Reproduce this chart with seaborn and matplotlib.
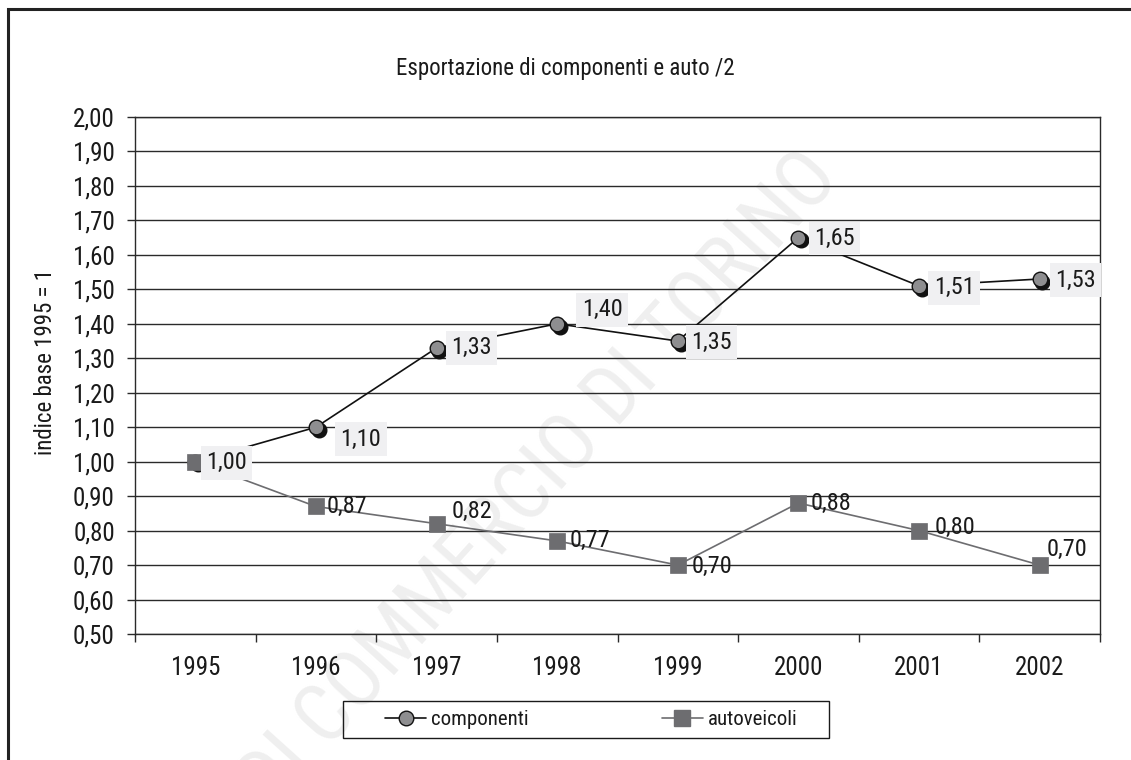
import numpy as np
import pandas as pd
import matplotlib
matplotlib.use("Agg")
import matplotlib.pyplot as plt
import matplotlib.transforms as mtransforms
import matplotlib.font_manager as fm
from matplotlib.lines import Line2D
from matplotlib.patches import Rectangle
from matplotlib.ticker import FixedLocator, FuncFormatter
import seaborn as sns

# --- data -------------------------------------------------------------
anni = ["1995", "1996", "1997", "1998", "1999", "2000", "2001", "2002"]
componenti = [1.00, 1.10, 1.33, 1.40, 1.35, 1.65, 1.51, 1.53]
autoveicoli = [1.00, 0.87, 0.82, 0.77, 0.70, 0.88, 0.80, 0.70]
y_ticks = [0.50, 0.60, 0.70, 0.80, 0.90, 1.00, 1.10, 1.20, 1.30, 1.40,
           1.50, 1.60, 1.70, 1.80, 1.90, 2.00]

titolo = "Esportazione di componenti e auto /2"
etichetta_y = "indice base 1995 = 1"
filigrana = "CAMERA DI COMMERCIO DI TORINO"

# label offsets from each point, in pixels (dx right, dy up)
off_comp = [(31, -1), (45, -12), (35, 0), (45, 14), (34, -1), (36, -1), (35, -2), (36, -1)]
off_auto = [(31, -1), (31, 0), (35, 12), (33, 0), (34, -1), (33, 0), (36, 3), (27, 16)]


# --- font: prefer a narrow sans face -------------------------------------
def pick_narrow_font():
    narrow_words = ("narrow", "condensed")
    good = []
    for f in fm.fontManager.ttflist:
        st = str(f.stretch).lower()
        nm = f.name.lower()
        fn = f.fname.lower()
        is_narrow = ("condensed" in st) or any(w in nm for w in narrow_words) \
            or any(w in fn.rsplit("/", 1)[-1] for w in narrow_words)
        if not is_narrow:
            continue
        if str(f.style) != "normal":
            continue
        w = f.weight
        if w not in ("normal", "regular", "book", 400):
            continue
        if "mono" in nm or "serif" in nm.replace("sans", ""):
            continue
        good.append(f)
    order = ["liberation sans narrow", "roboto condensed", "open sans",
             "noto sans", "dejavu sans"]

    def rank(f):
        nm = f.name.lower()
        for i, o in enumerate(order):
            if nm.startswith(o):
                return i
        return len(order)
    good.sort(key=rank)
    if good:
        return fm.FontProperties(fname=good[0].fname)
    return fm.FontProperties(family=["Liberation Sans", "DejaVu Sans"])


FP = pick_narrow_font()


def fprop(size):
    p = FP.copy()
    p.set_size(size)
    return p


# --- style -------------------------------------------------------------
sns.set_style("white")
plt.rcParams["font.family"] = ["Liberation Sans", "DejaVu Sans"]
plt.rcParams["text.color"] = "#1a1a1a"

C_COMP_FACE = "#8e8e90"
C_AUTO = "#6d6d70"
C_GRID = "#2a2a2a"
FS = 17.5
FS_TICK = 18
PX = 0.72  # points per pixel at 100 dpi

df = pd.DataFrame({"pos": np.arange(len(anni)),
                   "componenti": componenti,
                   "autoveicoli": autoveicoli})

fig = plt.figure(figsize=(11.31, 7.60), dpi=100)
ax = fig.add_axes([135 / 1131, 1 - 634 / 760, 965 / 1131, 517 / 760])

# shadow under the circle markers
shadow = mtransforms.ScaledTranslation(0.028, -0.028, fig.dpi_scale_trans)
ax.plot(df["pos"], df["componenti"], linestyle="none", marker="o",
        markersize=10.5, color="#111111", transform=ax.transData + shadow,
        zorder=3)

sns.lineplot(data=df, x="pos", y="componenti", ax=ax, color="#111111",
             linewidth=1.2, marker="o", markersize=10.5,
             markerfacecolor=C_COMP_FACE, markeredgecolor="#111111",
             markeredgewidth=1.0, zorder=3.5)
sns.lineplot(data=df, x="pos", y="autoveicoli", ax=ax, color=C_AUTO,
             linewidth=1.2, marker="s", markersize=11.5,
             markerfacecolor=C_AUTO, markeredgecolor=C_AUTO,
             markeredgewidth=0.5, zorder=4)

# value labels
fmt = lambda v: f"{v:.2f}".replace(".", ",")
for i, v in enumerate(autoveicoli):
    dx, dy = off_auto[i]
    ax.annotate(fmt(v), xy=(i, v), xytext=(dx * PX, dy * PX),
                textcoords="offset points", ha="center", va="center",
                fontproperties=fprop(FS), color="#1a1a1a", zorder=5)
for i, v in enumerate(componenti):
    dx, dy = off_comp[i]
    ax.annotate(fmt(v), xy=(i, v), xytext=(dx * PX, dy * PX),
                textcoords="offset points", ha="center", va="center",
                fontproperties=fprop(FS), color="#1a1a1a", zorder=6,
                bbox=dict(boxstyle="square,pad=0.22", fc="#f0f0f2", ec="none"))

# axes
ax.set_xlim(-0.5, len(anni) - 0.5)
ax.set_ylim(y_ticks[0], y_ticks[-1])
ax.xaxis.set_major_locator(FixedLocator(np.arange(-0.5, len(anni) + 0.5, 1.0)))
ax.xaxis.set_major_formatter(FuncFormatter(lambda v, p: ""))
ax.set_xticks(df["pos"], anni, minor=True)
ax.tick_params(axis="x", which="major", length=8 * PX, width=1.0,
               color=C_GRID, direction="out", bottom=True)
ax.tick_params(axis="x", which="minor", length=0, pad=22 * PX,
               labelcolor="#1a1a1a")
ax.set_yticks(y_ticks)
ax.yaxis.set_major_formatter(FuncFormatter(lambda v, p: fmt(v)))
ax.tick_params(axis="y", length=8 * PX, width=1.0, color=C_GRID,
               direction="out", left=True, pad=12 * PX,
               labelcolor="#1a1a1a")
for lbl in ax.get_xticklabels(minor=True) + ax.get_yticklabels():
    lbl.set_fontproperties(fprop(FS_TICK))
ax.grid(axis="y", color=C_GRID, linewidth=1.0)
ax.grid(axis="x", visible=False)
ax.set_axisbelow(True)
for s in ax.spines.values():
    s.set_color(C_GRID)
    s.set_linewidth(1.0)
    s.set_visible(True)

ax.set_xlabel("")
ax.set_ylabel(etichetta_y, fontproperties=fprop(16.5), color="#1a1a1a")
ax.yaxis.set_label_coords((57 - 135) / 965, (634 - 362) / 517)

# watermark
ax.text(0.729, 0.783, filigrana, transform=fig.transFigure, rotation=48,
        rotation_mode="anchor", ha="right", va="center",
        fontproperties=fprop(58), color="#efefef", zorder=0.5, clip_on=False)

# title
fig.text(0.5, 1 - 68 / 760, titolo, ha="center", va="center",
         fontproperties=fprop(16.5), color="#1a1a1a")

# legend
handles = [
    Line2D([], [], color="#111111", linewidth=1.2, marker="o", markersize=10.5,
           markerfacecolor=C_COMP_FACE, markeredgecolor="#111111"),
    Line2D([], [], color=C_AUTO, linewidth=1.2, marker="s", markersize=11.5,
           markerfacecolor=C_AUTO, markeredgecolor=C_AUTO),
]
fig.legend(handles, ["componenti", "autoveicoli"], loc="center",
           bbox_to_anchor=(591 / 1131, 1 - 719.5 / 760), ncol=2,
           frameon=False, prop=fprop(15), handlelength=2.0,
           handletextpad=0.2, columnspacing=6.4)
fig.add_artist(Rectangle((343 / 1131, 1 - 738 / 760), 486 / 1131, 37 / 760,
                         transform=fig.transFigure, fill=False,
                         edgecolor="#1a1a1a", linewidth=1.0))

# outer frame
fig.add_artist(Rectangle((8 / 1131, -0.5), 2.0, 1.5 - 9 / 760,
                         transform=fig.transFigure, fill=False,
                         edgecolor="#222222", linewidth=2.2))

fig.savefig("out.png", dpi=100)
